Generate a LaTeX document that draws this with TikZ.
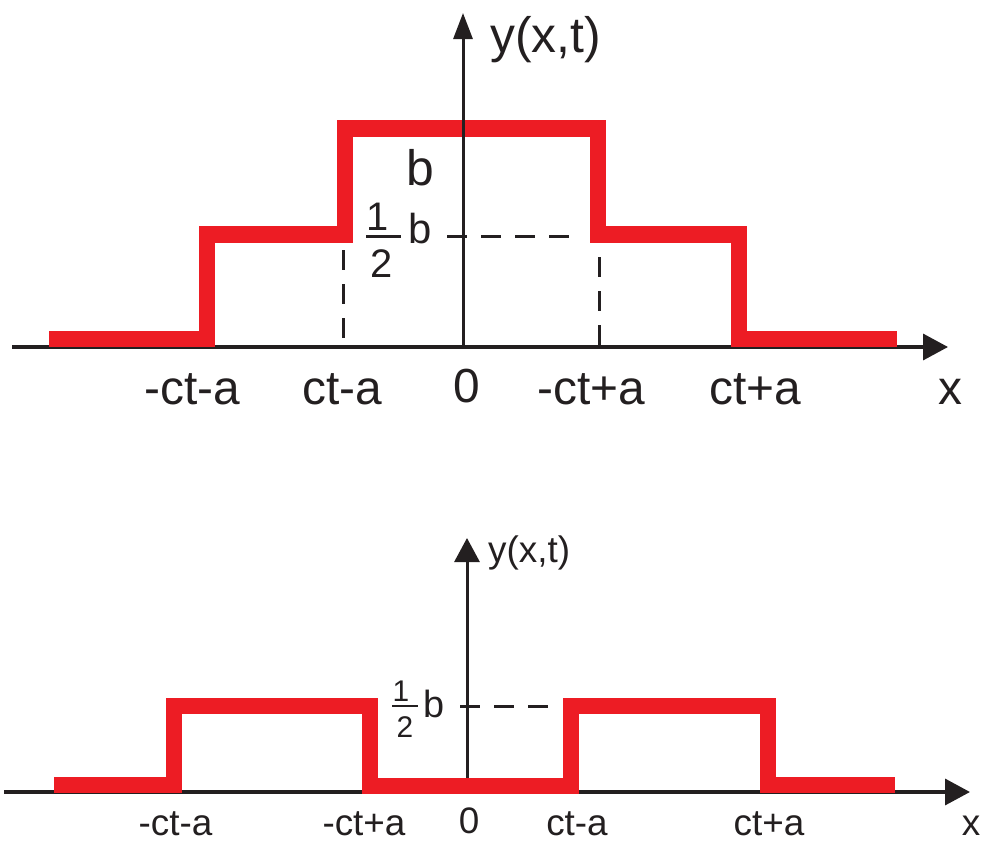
\documentclass[tikz,border=0pt]{standalone}
\usepackage{fontspec}
\setmainfont{Liberation Sans}
\usetikzlibrary{arrows.meta}
\definecolor{wred}{HTML}{ED1C24}
\definecolor{wblk}{HTML}{231F20}
\begin{document}
\begin{tikzpicture}[x=1bp,y=-1bp,
  redwave/.style={draw=wred,line width=16.5bp,line join=miter,line cap=butt},
  axisline/.style={draw=wblk,line width=3.5bp},
  guide/.style={draw=wblk,line width=3bp,dash pattern=on 20bp off 14bp},
  lbl/.style={inner sep=0pt,anchor=base,text=wblk},
  big/.style={lbl,font=\fontsize{48}{50}\selectfont},
  small/.style={lbl,text depth=0pt,font=\fontsize{37}{40}\selectfont}]
\useasboundingbox (0,0) rectangle (984,841);
% ---------- top ----------
\coordinate (xa0) at (12,347);
\coordinate (xa1) at (948,347);
\coordinate (ya0) at (463,347);
\coordinate (ya1) at (463,13);
\draw[axisline,-{Triangle[length=25bp,width=26bp]}] (xa0) -- (xa1);
\draw[redwave] (49,339) -- (207,339) -- (207,234.5) -- (345,234.5) -- (345,128.5)
  -- (598,128.5) -- (598,234.5) -- (739,234.5) -- (739,339) -- (897,339);
\draw[axisline,line width=3bp,-{Triangle[length=26bp,width=19bp]}] (ya0) -- (ya1);
\coordinate (d1a) at (343,250); \coordinate (d1b) at (343,347);
\coordinate (d2a) at (599,257); \coordinate (d2b) at (599,347);
\coordinate (d3a) at (447,236); \coordinate (d3b) at (572,236);
\draw[guide] (d1a) -- (d1b);
\draw[guide] (d2a) -- (d2b);
\draw[guide] (d3a) -- (d3b);
\node[lbl,anchor=base west,font=\fontsize{50}{52}\selectfont] (yl1) at (490,52) {y(x,t)};
\node[lbl,font=\fontsize{50}{52}\selectfont] (bl1) at (420.5,185) {b};
\node[lbl,font=\fontsize{40}{42}\selectfont] (n1) at (378,230) {1};
\node[lbl,font=\fontsize{40}{42}\selectfont] (n2) at (382,277) {2};
\draw[draw=wblk,line width=3bp] (366,236) -- (401,236);
\node[lbl,font=\fontsize{42}{44}\selectfont] (bh1) at (420,243) {b};
\node[big] (t1) at (192,404) {-ct-a};
\node[big] (t2) at (342,404) {ct-a};
\node[big] (t3) at (467,402) {0};
\node[big] (t4) at (591,404) {-ct+a};
\node[big] (t5) at (755,404) {ct+a};
\node[big] (t6) at (950,404) {x};
% ---------- bottom ----------
\coordinate (xb0) at (4,792);
\coordinate (xb1) at (970,792);
\coordinate (yb0) at (467,792);
\coordinate (yb1) at (467,538);
\draw[axisline,-{Triangle[length=25bp,width=26bp]}] (xb0) -- (xb1);
\draw[axisline,line width=3bp,-{Triangle[length=24bp,width=25bp]}] (yb0) -- (yb1);
\draw[redwave] (54,785) -- (174,785) -- (174,706) -- (370,706) -- (370,786)
  -- (571,786) -- (571,706) -- (768,706) -- (768,785) -- (895,785);
\coordinate (d4a) at (460,706); \coordinate (d4b) at (550,706);
\draw[guide] (d4a) -- (d4b);
\node[lbl,anchor=base west,font=\fontsize{37}{40}\selectfont] (yl2) at (488,562) {y(x,t)};
\node[lbl,font=\fontsize{30}{32}\selectfont] (n3) at (401,701) {1};
\node[lbl,font=\fontsize{30}{32}\selectfont] (n4) at (405,737) {2};
\draw[draw=wblk,line width=2.5bp] (392,706) -- (418,706);
\node[lbl,font=\fontsize{38}{40}\selectfont] (bh2) at (434,717) {b};
\node[small] (s1) at (175.5,835) {-ct-a};
\node[small] (s2) at (364,835) {-ct+a};
\node[small] (s3) at (469,833) {0};
\node[small] (s4) at (577,835) {ct-a};
\node[small] (s5) at (769,835) {ct+a};
\node[small] (s6) at (971,835) {x};
\end{tikzpicture}
\end{document}
